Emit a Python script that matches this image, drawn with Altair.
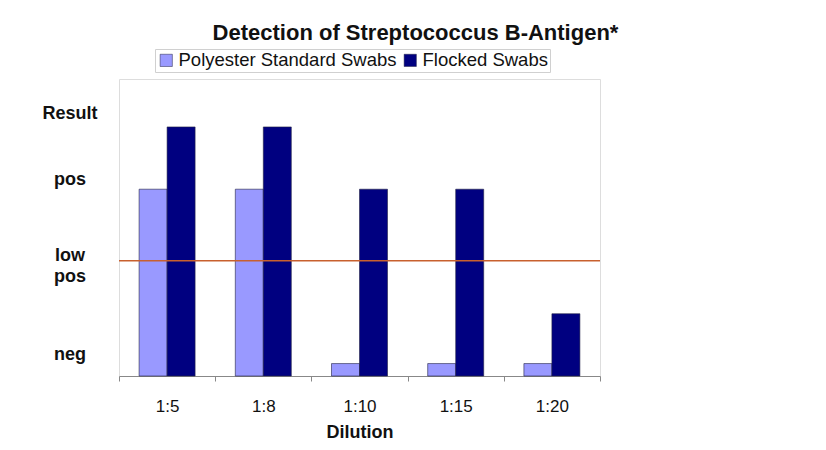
import altair as alt
import pandas as pd

# ---- data ----
dilutions = ["1:5", "1:8", "1:10", "1:15", "1:20"]
series_names = ["Polyester Standard Swabs", "Flocked Swabs"]
polyester = [3.0, 3.0, 0.2, 0.2, 0.2]
flocked = [4.0, 4.0, 3.0, 3.0, 1.0]
threshold = [1.85]  # "low pos" cut-off line
result_labels = ["neg", "low\npos", "pos", "Result"]
result_levels = [0.34, 1.92, 3.14, 4.21]

colors = ["#9999FF", "#000080"]
FONT = "Liberation Sans"

bars_df = pd.DataFrame(
    {
        "Dilution": dilutions * 2,
        "Swab": [series_names[0]] * len(dilutions) + [series_names[1]] * len(dilutions),
        "Value": polyester + flocked,
    }
)
rule_df = pd.DataFrame({"y": threshold})
lab_df = pd.DataFrame({"label": result_labels, "y": result_levels})

yscale = alt.Scale(domain=[0, 4.77], nice=False, zero=True)

bars = (
    alt.Chart(bars_df)
    .mark_bar(stroke="#222244", strokeWidth=0.6)
    .encode(
        x=alt.X(
            "Dilution:N",
            sort=dilutions,
            scale=alt.Scale(paddingInner=0, paddingOuter=0),
            axis=alt.Axis(
                title="Dilution",
                labelAngle=0,
                labelFontSize=17,
                labelFont=FONT,
                labelColor="#111111",
                labelPadding=17,
                tickBand="extent",
                tickSize=5,
                tickColor="#888888",
                domainColor="#888888",
                titleFontSize=18,
                titleFont=FONT,
                titleFontWeight="bold",
                titleColor="#111111",
                titlePadding=9,
            ),
        ),
        xOffset=alt.XOffset(
            "Swab:N",
            sort=series_names,
            scale=alt.Scale(paddingInner=0, paddingOuter=0.718),
        ),
        y=alt.Y("Value:Q", scale=yscale, axis=None),
        color=alt.Color(
            "Swab:N",
            sort=series_names,
            scale=alt.Scale(domain=series_names, range=colors),
            legend=alt.Legend(
                title=None,
                orient="none",
                legendX=36,
                legendY=-30,
                direction="horizontal",
                symbolType="square",
                symbolSize=150,
                symbolStrokeColor="#222244",
                symbolStrokeWidth=0.5,
                labelFontSize=18.5,
                labelFont=FONT,
                labelColor="#111111",
                labelOffset=3,
                labelLimit=0,
                columnPadding=4,
                strokeColor="#d0d0d0",
                fillColor="white",
                padding=2,
            ),
        ),
    )
)

rule = (
    alt.Chart(rule_df)
    .mark_rule(color="#C8602E", strokeWidth=1.5)
    .encode(y=alt.Y("y:Q", scale=yscale))
)

labels = (
    alt.Chart(lab_df)
    .mark_text(
        font=FONT,
        fontSize=18,
        fontWeight="bold",
        color="#111111",
        align="center",
        baseline="middle",
        lineBreak="\n",
        lineHeight=21,
    )
    .encode(x=alt.value(-49), y=alt.Y("y:Q", scale=yscale), text="label:N")
)

chart = (
    alt.layer(bars, rule, labels)
    .properties(
        width=481,
        height=297,
        title=alt.TitleParams(
            "Detection of Streptococcus B-Antigen*",
            font=FONT,
            fontSize=22,
            fontWeight="bold",
            color="#111111",
            anchor="middle",
            dx=56,
        ),
        autosize=alt.AutoSizeParams(type="none"),
        padding={"left": 111, "top": 71, "right": 218, "bottom": 66},
    )
    .configure_view(stroke="#888888", strokeWidth=1)
    .configure(background="white")
)

chart.save("out.html", embed_options={"renderer": "svg", "actions": False})
